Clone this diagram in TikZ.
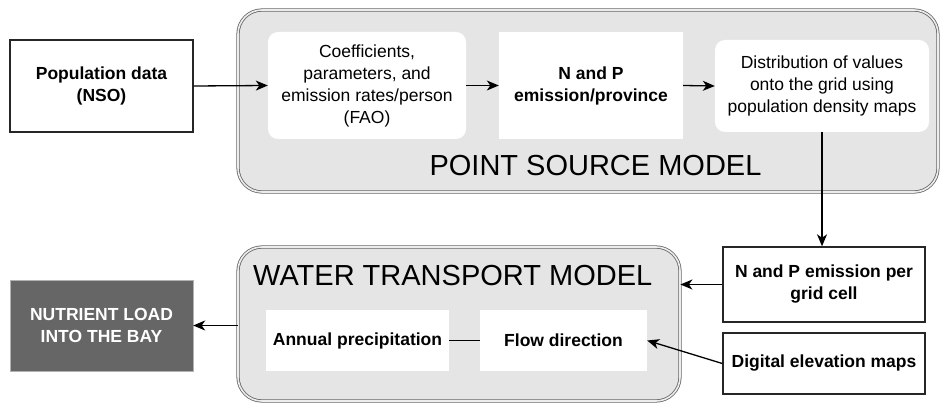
\documentclass[tikz,border=0pt]{standalone}
\usepackage{fontspec}
\setmainfont{Liberation Sans}
\usetikzlibrary{arrows.meta}
\begin{document}
\begin{tikzpicture}[x=1pt,y=-1pt,
  txt/.style={font=\fontsize{17.5}{22}\selectfont, align=center, inner sep=0pt},
  bold/.style={txt, font=\fontsize{17.5}{22}\selectfont\bfseries},
  outbox/.style={draw=black!85, line width=1.4pt, fill=white},
  whitebox/.style={fill=white},
  model/.style={draw=gray!80!black, line width=0.8pt, double=gray!15, double distance=1.6pt, fill=gray!20, rounded corners=24pt},
  big/.style={font=\fontsize{29}{32}\selectfont, inner sep=0pt},
  arr/.style={-{Stealth[length=12pt,width=10pt,inset=3.5pt]}, line width=1.3pt},
  ln/.style={line width=1.3pt}
]
\useasboundingbox (0,0) rectangle (941,403);
% model containers
\node[model, minimum width=700pt, minimum height=182pt, inner sep=0pt] (psm) at (588,101) {};
\node[model, minimum width=442pt, minimum height=154pt, inner sep=0pt] (wtm) at (459,324) {};
\node[big, anchor=center] (psmlabel) at (595.5,166) {POINT SOURCE MODEL};
\node[big, anchor=west] (wtmlabel) at (253,276) {WATER TRANSPORT MODEL};
% top row
\node[outbox, bold, minimum width=183pt, minimum height=92pt] (pop) at (101.5,86) {Population data\\(NSO)};
\node[whitebox, txt, rounded corners=10pt, minimum width=198pt, minimum height=107pt] (coef) at (367,85.5) {Coefficients,\\parameters, and\\emission rates/person\\(FAO)};
\node[whitebox, bold, minimum width=184pt, minimum height=107pt] (npprov) at (591,85.5) {N and P\\emission/province};
\node[whitebox, txt, rounded corners=10pt, minimum width=214pt, minimum height=92pt] (dist) at (822,86) {Distribution of values\\onto the grid using\\population density maps};
% right column
\node[outbox, bold, minimum width=202pt, minimum height=75pt] (npgrid) at (824,284.5) {N and P emission per\\grid cell};
\node[outbox, bold, minimum width=202pt, minimum height=61pt] (dem) at (824,363.5) {Digital elevation maps};
% water transport inner
\node[whitebox, bold, minimum width=183pt, minimum height=61pt] (annual) at (357.5,340.5) {Annual precipitation};
\node[whitebox, bold, minimum width=167pt, minimum height=61pt] (flow) at (563.5,340.5) {Flow direction};
% output
\node[draw=gray!60, fill=black!60, bold, text=white, minimum width=183pt, minimum height=91pt] (nutrient) at (101.5,325.5) {NUTRIENT LOAD\\INTO THE BAY};
% connectors
\draw[arr] (pop.east) -- (coef.west);
\draw[arr] (coef.east) -- (npprov.west);
\draw[arr] (npprov.east) -- (dist.west);
\draw[arr] (dist.south) -- (dist.south |- npgrid.north);
\draw[arr] (npgrid.west) -- (npgrid.west -| wtm.east);
\draw[arr] (dem.west) -- (flow.east);
\draw[ln] (annual.east) -- (flow.west);
\draw[arr] (wtm.west |- nutrient.east) -- (nutrient.east);
\end{tikzpicture}
\end{document}
